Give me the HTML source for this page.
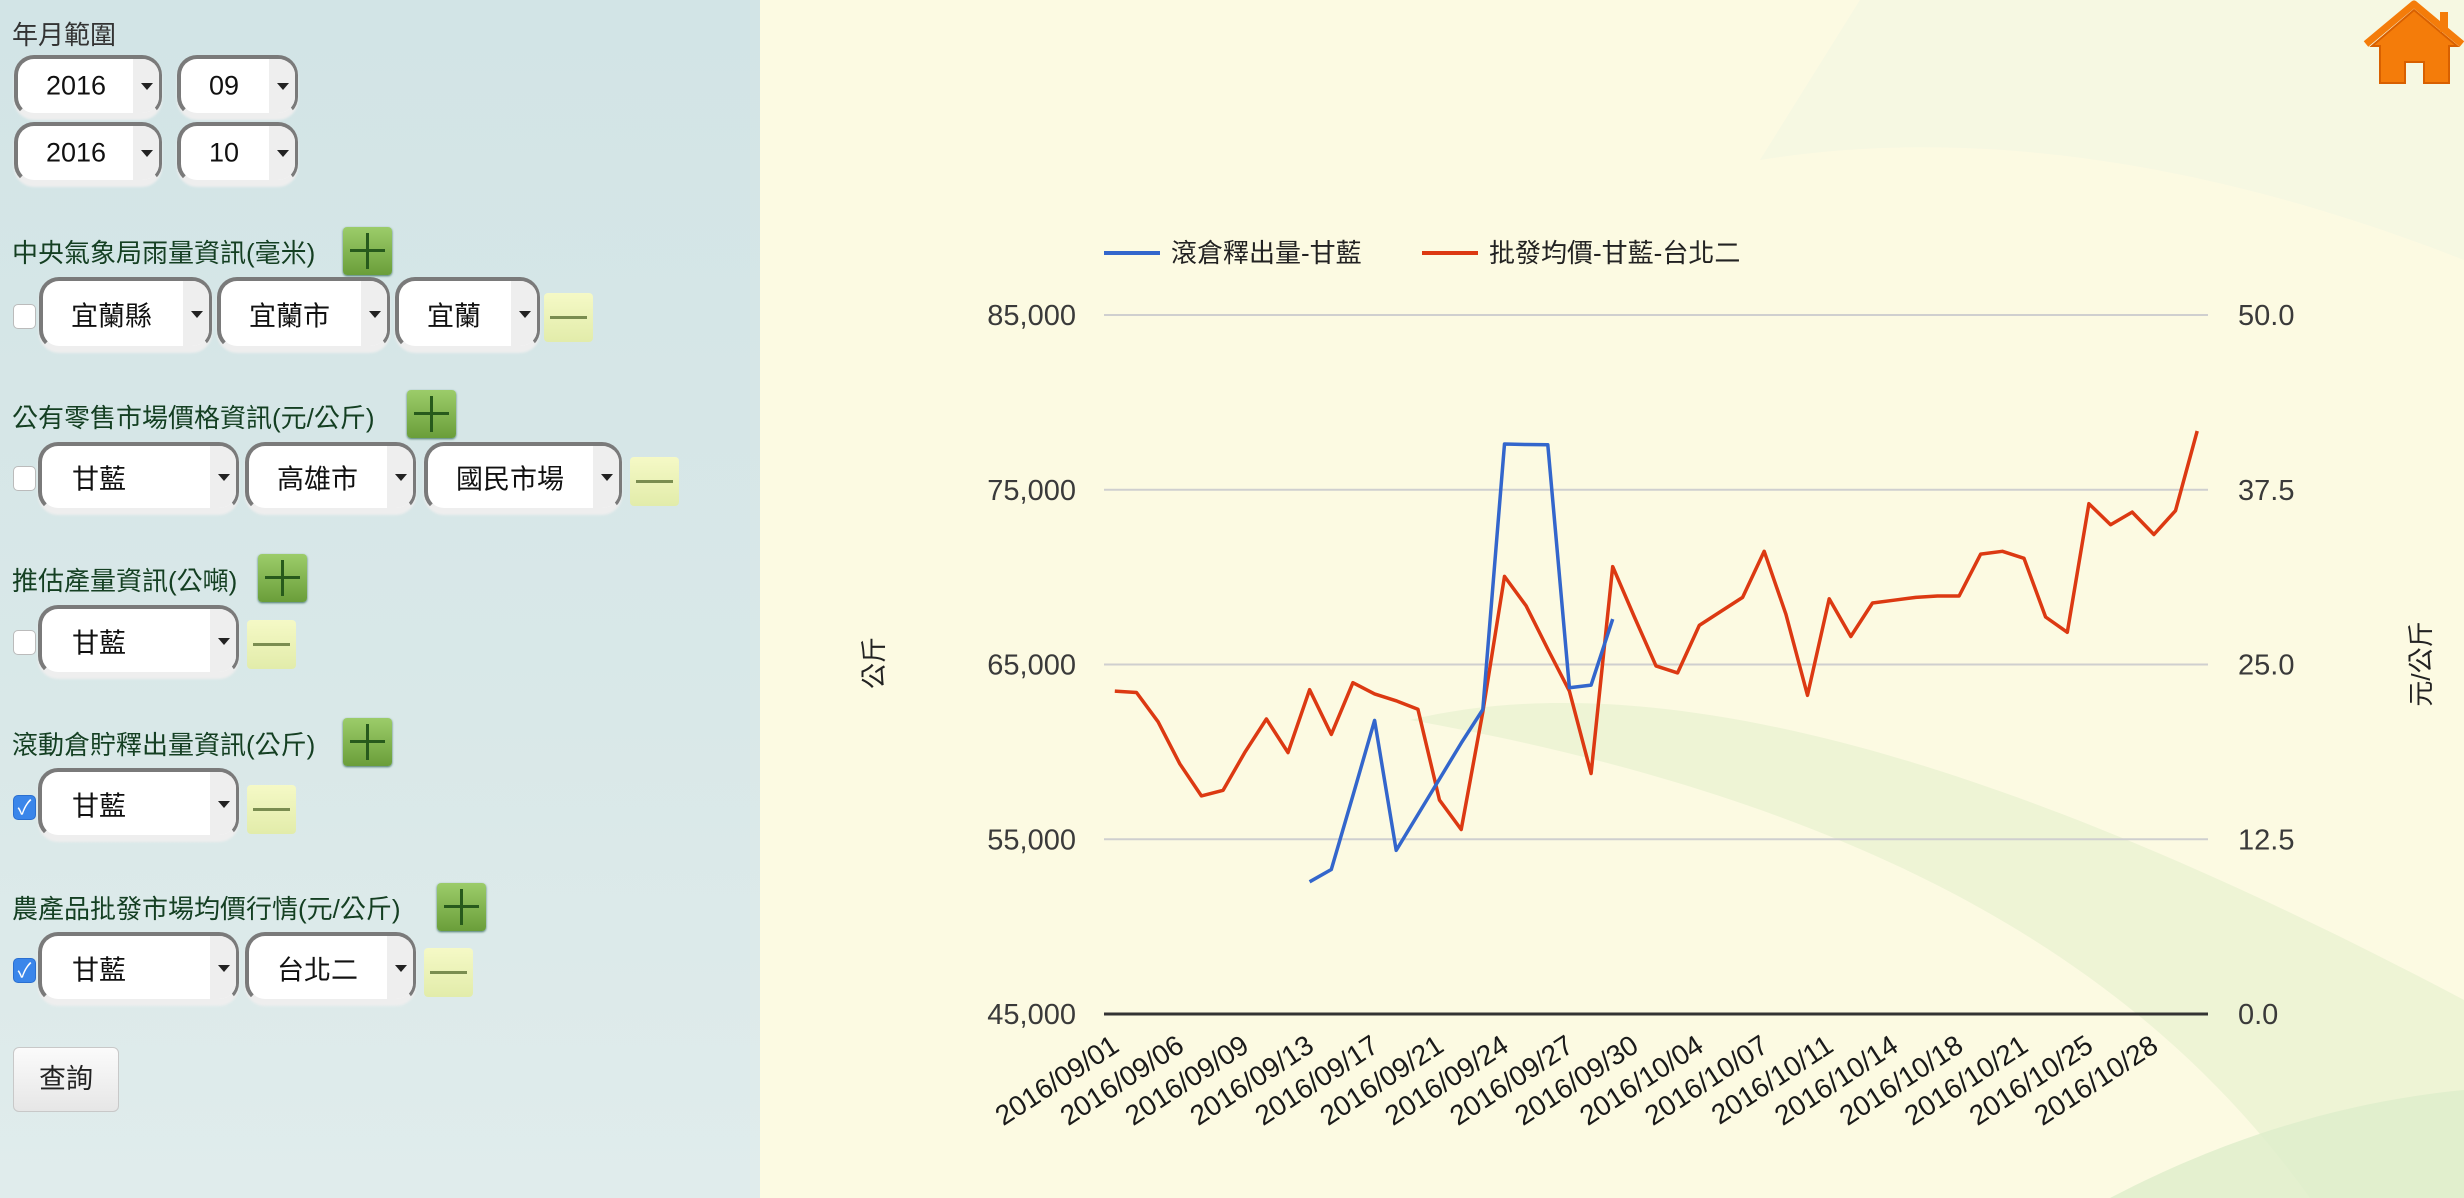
<!DOCTYPE html>
<html><head><meta charset="utf-8">
<style>
*{box-sizing:border-box;margin:0;padding:0}
body{width:2464px;height:1198px;overflow:hidden;position:relative;font-family:"Liberation Sans","Noto Sans CJK TC",sans-serif;background:#fdfbe4}
#left{position:absolute;left:0;top:0;width:760px;height:1198px;background:linear-gradient(180deg,#d2e4e6 0%,#d9e8e8 60%,#e0ecec 100%)}
.h{position:absolute;font-size:26px;color:#143f22;white-space:nowrap}
.sel{position:absolute;background:#fff;border:4px solid #7a7a7a;border-bottom-color:#eee;border-right-width:3px;border-radius:20px;box-shadow:0 3px 2px #eee;font-size:27px;color:#111;overflow:hidden}
.sel span{position:absolute;top:50%;transform:translateY(-50%)}
.sel i{position:absolute;right:0;top:0;bottom:0;width:26px;background:#eee}
.sel i:after{content:"";position:absolute;left:8px;top:50%;margin-top:-3px;border-left:6px solid transparent;border-right:6px solid transparent;border-top:7px solid #222}
.plus{position:absolute;width:49px;height:48px;background:linear-gradient(#9ccc6a,#6a9e3a);border-radius:4px;box-shadow:0 1px 2px #476}
.plus:before{content:"";position:absolute;left:7px;right:7px;top:22px;height:3px;background:#275a1c}
.plus:after{content:"";position:absolute;top:6px;bottom:6px;left:23px;width:3px;background:#275a1c}
.minus{position:absolute;width:49px;height:49px;background:linear-gradient(#f5f9c6,#e2ecaa);border-radius:4px}
.minus:before{content:"";position:absolute;left:6px;right:6px;top:23px;height:3px;background:#7a8d50}
.cb{position:absolute;width:23px;height:25px;background:#fff;border:1px solid #bbb;border-radius:5px}
.cb.on{background:#3a86ea;border-color:#2a6fd0;color:#fff;font-size:20px;line-height:24px;text-align:center}
</style></head><body>
<div id="left">
<div class="h" style="left:12px;top:15px;color:#333">年月範圍</div>
<div class="sel" style="left:14px;top:55px;width:148px;height:62px"><span style="left:28px">2016</span><i></i></div>
<div class="sel" style="left:177px;top:55px;width:121px;height:62px"><span style="left:28px">09</span><i></i></div>
<div class="sel" style="left:14px;top:122px;width:148px;height:62px"><span style="left:28px">2016</span><i></i></div>
<div class="sel" style="left:177px;top:122px;width:121px;height:62px"><span style="left:28px">10</span><i></i></div>

<div class="h" style="left:12px;top:233px">中央氣象局雨量資訊(毫米)</div>
<div class="plus" style="left:343px;top:227px"></div>
<div class="cb" style="left:13px;top:304px"></div>
<div class="sel" style="left:39px;top:277px;width:173px;height:73px"><span style="left:28px">宜蘭縣</span><i></i></div>
<div class="sel" style="left:217px;top:277px;width:173px;height:73px"><span style="left:28px">宜蘭市</span><i></i></div>
<div class="sel" style="left:395px;top:277px;width:145px;height:73px"><span style="left:28px">宜蘭</span><i></i></div>
<div class="minus" style="left:544px;top:293px"></div>

<div class="h" style="left:12px;top:398px">公有零售市場價格資訊(元/公斤)</div>
<div class="plus" style="left:407px;top:390px"></div>
<div class="cb" style="left:13px;top:466px"></div>
<div class="sel" style="left:38px;top:442px;width:201px;height:70px"><span style="left:30px">甘藍</span><i></i></div>
<div class="sel" style="left:245px;top:442px;width:171px;height:70px"><span style="left:28px">高雄市</span><i></i></div>
<div class="sel" style="left:424px;top:442px;width:198px;height:70px"><span style="left:28px">國民市場</span><i></i></div>
<div class="minus" style="left:630px;top:457px"></div>

<div class="h" style="left:12px;top:561px">推估產量資訊(公噸)</div>
<div class="plus" style="left:258px;top:554px"></div>
<div class="cb" style="left:13px;top:630px"></div>
<div class="sel" style="left:38px;top:605px;width:201px;height:71px"><span style="left:30px">甘藍</span><i></i></div>
<div class="minus" style="left:247px;top:620px"></div>

<div class="h" style="left:12px;top:725px">滾動倉貯釋出量資訊(公斤)</div>
<div class="plus" style="left:343px;top:718px"></div>
<div class="cb on" style="left:13px;top:795px">✓</div>
<div class="sel" style="left:38px;top:768px;width:201px;height:71px"><span style="left:30px">甘藍</span><i></i></div>
<div class="minus" style="left:247px;top:785px"></div>

<div class="h" style="left:12px;top:889px">農產品批發市場均價行情(元/公斤)</div>
<div class="plus" style="left:437px;top:883px"></div>
<div class="cb on" style="left:13px;top:958px">✓</div>
<div class="sel" style="left:38px;top:932px;width:201px;height:71px"><span style="left:30px">甘藍</span><i></i></div>
<div class="sel" style="left:245px;top:932px;width:171px;height:71px"><span style="left:28px">台北二</span><i></i></div>
<div class="minus" style="left:424px;top:948px"></div>

<div style="position:absolute;left:13px;top:1047px;width:106px;height:65px;background:linear-gradient(#fbfbfb,#e6e6e6);border:1px solid #c8c8c8;border-radius:6px;font-size:27px;color:#222;text-align:center;line-height:63px">查詢</div>
</div>

<svg id="chart" style="position:absolute;left:760px;top:0" width="1704" height="1198">
<rect x="0" y="0" width="1704" height="1198" fill="#fcfae2"/>
<path d="M650,720 C900,660 1250,760 1704,1000 L1704,1198 L1550,1198 C1380,960 1100,800 650,720Z" fill="#eaf3d2" opacity="0.8"/>
<path d="M1000,160 C1250,120 1500,180 1704,260 L1704,0 L1100,0Z" fill="#f3f7e2" opacity="0.7"/>
<path d="M1350,1198 C1480,1130 1600,1100 1704,1090 L1704,1198Z" fill="#ddeecb" opacity="0.8"/>
<g id="home">
<path d="M1612,46 L1654,10 L1697,46 L1689,46 L1689,83 L1664,83 L1664,62 L1645,62 L1645,83 L1620,83 L1620,46Z" fill="#f47c0a" stroke="#d86000" stroke-width="2"/>
<path d="M1606,44 L1654,4 L1702,44" fill="none" stroke="#f47c0a" stroke-width="7" stroke-linejoin="round"/>
<rect x="1680" y="12" width="8" height="20" fill="#f47c0a"/>
</g>
<g id="plot"></g>
</svg>

<script>
const categories=["2016/09/01","2016/09/02","2016/09/05","2016/09/06","2016/09/07","2016/09/08","2016/09/09","2016/09/10","2016/09/12","2016/09/13","2016/09/14","2016/09/16","2016/09/17","2016/09/18","2016/09/20","2016/09/21","2016/09/22","2016/09/23","2016/09/24","2016/09/25","2016/09/26","2016/09/27","2016/09/28","2016/09/29","2016/09/30","2016/10/01","2016/10/02","2016/10/04","2016/10/05","2016/10/06","2016/10/07","2016/10/08","2016/10/09","2016/10/11","2016/10/12","2016/10/13","2016/10/14","2016/10/15","2016/10/16","2016/10/18","2016/10/19","2016/10/20","2016/10/21","2016/10/22","2016/10/23","2016/10/25","2016/10/26","2016/10/27","2016/10/28","2016/10/29","2016/10/30"];
const priceValues=[23.1,23.0,20.9,17.9,15.6,16.0,18.7,21.1,18.7,23.2,20.0,23.7,22.9,22.4,21.8,15.3,13.2,21.6,31.3,29.2,26.1,23.1,17.2,32.0,28.4,24.9,24.4,27.8,28.8,29.8,33.1,28.6,22.8,29.7,27.0,29.4,29.6,29.8,29.9,29.9,32.9,33.1,32.6,28.4,27.3,36.5,35.0,35.9,34.3,36.0,41.7];
const releaseValues=[null,null,null,null,null,null,null,null,null,52565,53270,57500,61800,54360,56410,58450,60500,62420,77620,77590,77570,63670,63820,67600,null,null,null,null,null,null,null,null,null,null,null,null,null,null,null,null,null,null,null,null,null,null,null,null,null,null,null];
const leftTicks=[45000,55000,65000,75000,85000];
const rightTicks=[0,12.5,25,37.5,50];
const labelEvery=3;

const NS="http://www.w3.org/2000/svg";
const OX=760;
const L=1104-OX, R=2208-OX, T=315, B=1014;
const yL=v=>B-(v-45000)/(85000-45000)*(B-T);
const yR=v=>B-(v-0)/(50-0)*(B-T);
const band=(R-L)/categories.length;
const xC=i=>L+band*(i+0.5);
const plot=document.getElementById('plot');
function mk(tag,attrs,txt){const e=document.createElementNS(NS,tag);for(const k in attrs)e.setAttribute(k,attrs[k]);if(txt!=null)e.textContent=txt;plot.appendChild(e);return e;}
const F='"Liberation Sans","Noto Sans CJK TC",sans-serif';
leftTicks.forEach((t,i)=>{
  const yy=yL(t);
  if(i>0){const g=mk('line',{x1:L,x2:R,y1:yy,y2:yy,stroke:'#cfcfcf','stroke-width':2});
  
  }
  const tl=mk('text',{x:L-28,y:yy+10,'text-anchor':'end','font-size':29,fill:'#3a3a3a','font-family':F},t.toLocaleString('en-US'));
  
  
});
rightTicks.forEach(t=>{
  const tl=mk('text',{x:R+30,y:yR(t)+10,'font-size':29,fill:'#3a3a3a','font-family':F},t.toFixed(1));
  
  
});
const base=mk('line',{x1:L,x2:R,y1:B,y2:B,stroke:'#333','stroke-width':3});


categories.forEach((c,i)=>{
  if(i%labelEvery)return;
  const x=xC(i)+6,y=B+36;
  const tl=mk('text',{x:x,y:y,'text-anchor':'end','font-size':28,fill:'#1a1a1a','font-family':F,transform:`rotate(-33 ${x} ${y})`},c);
  
  
});
function series(vals,yf,color,name){
  let d='',pen=false;
  vals.forEach((v,i)=>{if(v==null){pen=false;return;}d+=(pen?'L':'M')+xC(i).toFixed(1)+','+yf(v).toFixed(1);pen=true;});
  const p=mk('path',{d:d,fill:'none',stroke:color,'stroke-width':3.5,'stroke-linejoin':'round'});
  
  
}
series(priceValues,yR,'#dc3912','wholesale-price-line');
series(releaseValues,yL,'#3366cc','release-volume-line');
const lg=[['#3366cc','滾倉釋出量-甘藍',1104],['#dc3912','批發均價-甘藍-台北二',1422]];
lg.forEach(([c,t,x])=>{
  const l=mk('line',{x1:x-OX,x2:x-OX+56,y1:253,y2:253,stroke:c,'stroke-width':4});
  
  
  const tx=mk('text',{x:x-OX+67,y:262,'font-size':26,fill:'#222','font-family':F},t);
  
  
});
const at1=mk('text',{x:0,y:0,'text-anchor':'middle','font-size':26,fill:'#222','font-family':F,transform:`translate(${874-OX+9},663) rotate(-90)`},'公斤');


const at2=mk('text',{x:0,y:0,'text-anchor':'middle','font-size':26,fill:'#222','font-family':F,transform:`translate(${2421-OX+9},664) rotate(-90)`},'元/公斤');


</script>
</body></html>
